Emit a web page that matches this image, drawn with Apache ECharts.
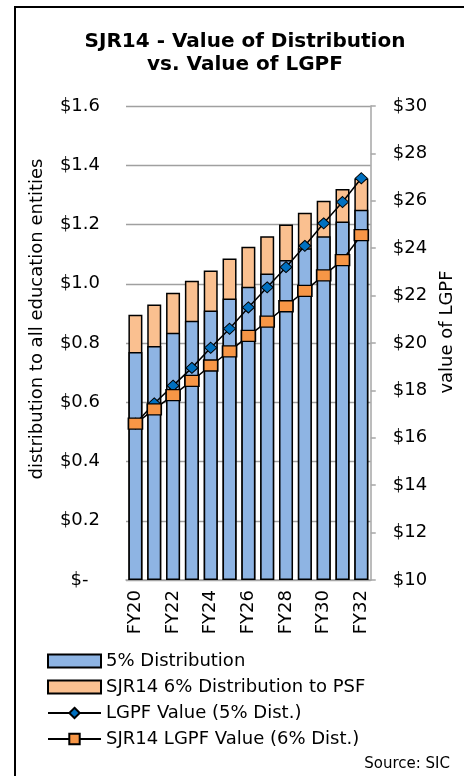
<!DOCTYPE html>
<html>
<head>
<meta charset="utf-8" />
<title>SJR14 chart</title>
<script src="https://cdn.jsdelivr.net/npm/echarts@6/dist/echarts.min.js"></script>
<style>
  html, body { margin: 0; padding: 0; background: #fff; }
  #main { width: 464px; height: 776px; }
</style>
</head>
<body>
<div id="main"></div>
<script type="text/javascript">
  // fiscal years
  var years = ['FY20', 'FY21', 'FY22', 'FY23', 'FY24', 'FY25', 'FY26', 'FY27', 'FY28', 'FY29', 'FY30', 'FY31', 'FY32'];
  // distribution, $ billions (left axis)
  var dist5 = [0.77, 0.79, 0.835, 0.875, 0.91, 0.95, 0.99, 1.035, 1.08, 1.12, 1.16, 1.21, 1.25];
  var dist6 = [0.895, 0.93, 0.97, 1.01, 1.045, 1.085, 1.125, 1.16, 1.2, 1.24, 1.28, 1.32, 1.355];
  // LGPF value, $ billions (right axis)
  var lgpf5 = [16.6, 17.45, 18.2, 18.95, 19.8, 20.6, 21.5, 22.35, 23.2, 24.1, 25.05, 25.95, 26.95];
  var lgpf6 = [16.6, 17.2, 17.8, 18.4, 19.05, 19.65, 20.3, 20.9, 21.55, 22.2, 22.85, 23.5, 24.55];

  var FONT = 'DejaVu Sans';
  var chart = echarts.init(document.getElementById('main'));

  chart.setOption({
    animation: false,
    textStyle: { fontFamily: FONT, color: '#000' },
    title: {
      text: 'SJR14 - Value of Distribution\nvs. Value of LGPF',
      left: 240,
      top: 25,
      textAlign: 'center',
      textStyle: { fontFamily: FONT, fontSize: 20, fontWeight: 'bold', lineHeight: 23, color: '#000' }
    },
    graphic: [{
      type: 'rect',
      shape: { x: 15, y: 7, width: 470, height: 790 },
      style: { fill: 'none', stroke: '#000', lineWidth: 2 },
      silent: true
    }, {
      type: 'text',
      right: 14,
      top: 757,
      style: { text: 'Source: SIC', fontFamily: FONT, fontSize: 15, fill: '#000' }
    }],
    grid: { left: 126, right: 85, top: 106, bottom: 196 },
    legend: {
      orient: 'vertical',
      left: 47,
      top: 652,
      padding: 0,
      itemWidth: 53,
      itemHeight: 13,
      itemGap: 8,
      textStyle: { fontFamily: FONT, fontSize: 18, color: '#000' },
      data: [
        { name: '5% Distribution', icon: 'rect' },
        { name: 'SJR14 6% Distribution to PSF', icon: 'rect' },
        'LGPF Value (5% Dist.)',
        'SJR14 LGPF Value (6% Dist.)'
      ]
    },
    xAxis: {
      type: 'category',
      data: years,
      axisLine: { lineStyle: { color: '#a6a6a6', width: 1.5 } },
      axisTick: { show: false },
      axisLabel: { rotate: 90, interval: 1, fontSize: 18, color: '#000', margin: 10 }
    },
    yAxis: [{
      type: 'value',
      min: 0,
      max: 1.6,
      interval: 0.2,
      name: 'distribution to all education entities',
      nameLocation: 'middle',
      nameRotate: 90,
      nameGap: 80,
      nameTextStyle: { fontSize: 18, color: '#000', padding: [0, 0, 0, 48] },
      axisLine: { show: false },
      axisTick: { show: false },
      splitLine: { lineStyle: { color: '#a0a0a0', width: 1.3 } },
      axisLabel: {
        fontSize: 18, color: '#000', margin: 26,
        formatter: function (v) { return v === 0 ? '$-  ' : '$' + v.toFixed(1); }
      }
    }, {
      type: 'value',
      min: 10,
      max: 30,
      interval: 2,
      position: 'right',
      name: 'value of LGPF',
      nameLocation: 'middle',
      nameRotate: 90,
      nameGap: 67,
      nameTextStyle: { fontSize: 18, color: '#000', padding: [0, 0, 0, 22] },
      axisLine: { show: true, lineStyle: { color: '#a6a6a6', width: 1.5 } },
      axisTick: { show: true, inside: false, length: 5, lineStyle: { color: '#a6a6a6', width: 1.5 } },
      splitLine: { show: false },
      axisLabel: { fontSize: 18, color: '#000', margin: 22, formatter: '${value}' }
    }],
    series: [{
      name: 'SJR14 6% Distribution to PSF',
      type: 'bar',
      data: dist6,
      barWidth: 14,
      barGap: '-100%',
      itemStyle: { color: '#fac090', borderColor: '#000', borderWidth: 1.5 }
    }, {
      name: '5% Distribution',
      type: 'bar',
      data: dist5,
      barWidth: 14,
      barGap: '-100%',
      itemStyle: { color: '#8eb4e3', borderColor: '#000', borderWidth: 1.5 }
    }, {
      name: 'LGPF Value (5% Dist.)',
      type: 'line',
      yAxisIndex: 1,
      data: lgpf5,
      symbol: 'diamond',
      symbolSize: [12, 11],
      lineStyle: { color: '#000', width: 1.5 },
      itemStyle: { color: '#0070c0', borderColor: '#000', borderWidth: 1 }
    }, {
      name: 'SJR14 LGPF Value (6% Dist.)',
      type: 'line',
      yAxisIndex: 1,
      data: lgpf6,
      symbol: 'rect',
      symbolSize: [14, 11],
      lineStyle: { color: '#000', width: 1.5 },
      itemStyle: { color: '#f79646', borderColor: '#000', borderWidth: 1.5 }
    }]
  });
</script>
</body>
</html>
